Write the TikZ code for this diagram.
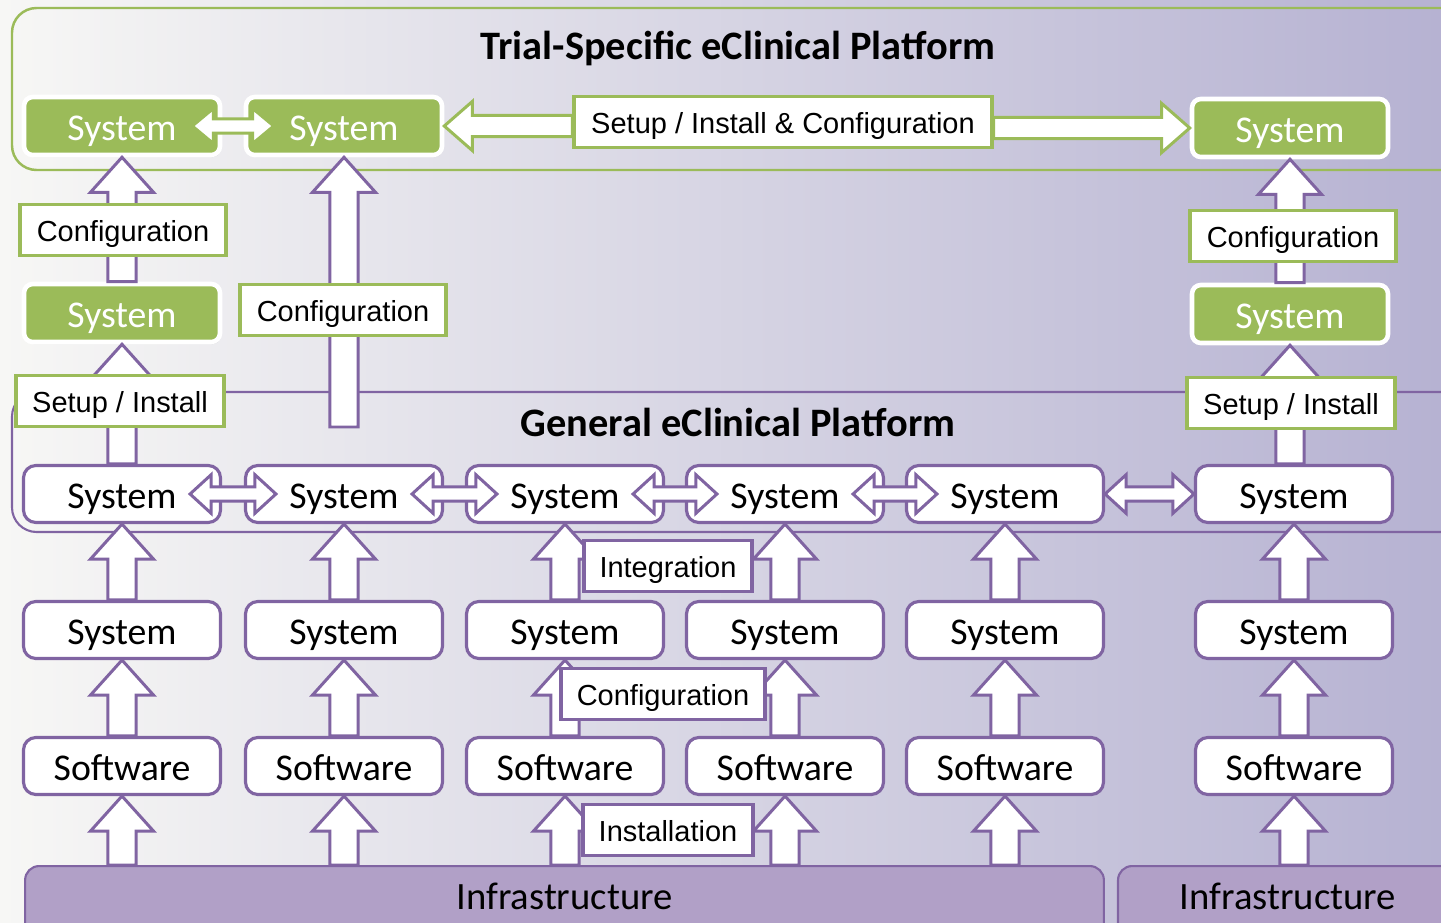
\documentclass[tikz,border=0pt]{standalone}
\usepackage{fontspec}
\usepackage{tikz}
\usetikzlibrary{calc,shadows}
\newfontfamily\calibri{Carlito}
\newfontfamily\arial{Liberation Sans}
\newcommand{\boxfont}{\calibri\fontsize{21.5}{25}\selectfont}
\newcommand{\infrafont}{\calibri\fontsize{22}{26}\selectfont}
\newcommand{\titlefont}{\calibri\bfseries\fontsize{23}{27}\selectfont}
\newcommand{\labelfont}{\arial\fontsize{16.5}{20}\selectfont}
\definecolor{grn}{RGB}{155,187,89}
\definecolor{purp}{RGB}{128,100,162}
\definecolor{infra}{RGB}{177,160,199}
\definecolor{bgleft}{RGB}{247,247,245}
\definecolor{bgmid}{RGB}{234,233,239}
\definecolor{bgright}{RGB}{182,178,210}

% block arrow pointing up: tail, tip
\newcommand{\blockup}[3][purple_arrow]{%
    \draw[#1] let \p1=#2, \p2=#3 in
    (\x2-8pt,\y1) -- (\x2-8pt,\y2-20pt) -- (\x2-18pt,\y2-20pt) -- (\x2,\y2)
    -- (\x2+18pt,\y2-20pt) -- (\x2+8pt,\y2-20pt) -- (\x2+8pt,\y1) -- cycle;}
% block arrow, horizontal: tail, tip, shaft half, head half, head length
\newcommand{\blockh}[6][green_arrow]{%
    \draw[#1] let \p1=#2, \p2=#3, \n1={ifthenelse(\x2>\x1,1,-1)} in
    (\x1,{\y2-#4}) -- ({\x2-(\n1)*#6},{\y2-#4}) -- ({\x2-(\n1)*#6},{\y2-#5}) -- (\x2,\y2)
    -- ({\x2-(\n1)*#6},{\y2+#5}) -- ({\x2-(\n1)*#6},{\y2+#4}) -- (\x1,{\y2+#4}) -- cycle;}
% double block arrow: left end, right end, shaft half, head half, head length
\newcommand{\blockdbl}[6][purple_arrow]{%
    \draw[#1] let \p1=#2, \p2=#3 in
    (\x1,\y1) -- (\x1+#6,\y1+#5) -- (\x1+#6,\y1+#4) -- (\x2-#6,\y1+#4) -- (\x2-#6,\y1+#5)
    -- (\x2,\y1) -- (\x2-#6,\y1-#5) -- (\x2-#6,\y1-#4) -- (\x1+#6,\y1-#4) -- (\x1+#6,\y1-#5) -- cycle;}

\begin{document}
\begin{tikzpicture}[x=0.02cm, y=-0.02cm,
green_box/.style={rectangle, rounded corners=5pt, fill=grn, draw=white, line width=2.6pt, text=white, minimum width=3.92cm, minimum height=1.16cm, text height=16.5pt, text depth=0pt, font=\boxfont, drop shadow={opacity=0.3, shadow xshift=0.6pt, shadow yshift=-1.2pt}},
white_box/.style={rectangle, rounded corners=7pt, fill=white, draw=purp, line width=1.8pt, minimum width=3.94cm, minimum height=1.14cm, text height=17pt, text depth=0pt, font=\boxfont},
green_label/.style={rectangle, fill=white, draw=grn, line width=1.8pt, minimum height=1.02cm, text height=14pt, text depth=1pt, font=\labelfont},
purple_label/.style={green_label, draw=purp},
infra_box/.style={rectangle, rounded corners=8pt, fill=infra, draw=purp, line width=1.2pt, anchor=north, inner ysep=0.1cm, text height=0.76cm, text depth=0.64cm, font=\infrafont},
title_text/.style={font=\titlefont},
purple_arrow/.style={draw=purp, line width=1.7pt, fill=white, line join=miter},
green_arrow/.style={draw=grn, line width=1.7pt, fill=white, line join=miter}
]
% Draw background
    \useasboundingbox (0,0) rectangle (1441,923);
    \clip (0,0) rectangle (1441,923);
    \shade[left color=bgleft, middle color=bgmid, right color=bgright] (0,0) rectangle (1441,923);

% Draw panels
    \draw[grn, line width=1.4pt, rounded corners=14pt] (12,8) rectangle (1480,170);
    \draw[purp, line width=1.2pt, rounded corners=14pt] (12,392) rectangle (1480,532);
    \node[title_text] (t1) at (738,48) {Trial-Specific eClinical Platform};
    \node[title_text] (t2) at (738,422) {General eClinical Platform};

% Draw trial-specific systems
    \node[green_box] (g1) at (122,126) {System};
    \node[green_box] (g2) at (344,126) {System};
    \node[green_box] (g3) at (1290,128) {System};
    \node[green_box] (g4) at (122,313) {System};
    \node[green_box] (g5) at (1290,314) {System};

% Draw general systems and software
    \foreach \x [count=\i] in {122,344,565,785,1005,1294} {
        \node[white_box] (a\i) at (\x,494) {System};
        \node[white_box] (b\i) at (\x,630) {System};
        \node[white_box] (c\i) at (\x,766) {Software};
    }

% Draw infrastructure
    \node[infra_box, minimum width=21.58cm] (inf1) at (564.5,865) {Infrastructure};
    \node[infra_box, minimum width=6.8cm] (inf2) at (1288,865) {Infrastructure};

% Draw up arrows
    \foreach \i in {1,...,6} {
        \blockup{(c\i.south |- inf1.north)}{(c\i.south)}
        \blockup{(b\i.south |- c\i.north)}{(b\i.south)}
        \blockup{(a\i.south |- b\i.north)}{(a\i.south)}
    }
    \coordinate (k2) at (345,427);
    \blockup{(a1.north)}{(g4.south)}
    \blockup{(g4.north)}{(g1.south)}
    \blockup{(k2)}{(g2.south)}
    \blockup{(a6.north)}{(g5.south)}
    \blockup{(g5.north)}{(g3.south)}

% Draw double arrows
    \foreach \i [evaluate=\i as \j using int(\i+1)] in {1,...,4} {
        \blockdbl{([xshift=-0.64cm]a\i.east)}{([xshift=0.64cm]a\j.west)}{4pt}{11pt}{12pt}
    }
    \blockdbl{(a5.east)}{(a6.west)}{4pt}{11pt}{12pt}
    \blockdbl[green_arrow]{([xshift=-0.6cm]g1.east)}{([xshift=0.6cm]g2.west)}{4pt}{10pt}{12pt}

% Draw labels
    \node[green_label, minimum width=8.36cm] (l1) at (783,122) {Setup / Install \& Configuration};
    \blockh{(l1.west)}{(g2.east)}{6pt}{14pt}{16pt}
    \blockh{(l1.east)}{(g3.west)}{6pt}{14pt}{16pt}
    \node[green_label, minimum width=4.12cm] (l2) at (123,230) {Configuration};
    \node[green_label, minimum width=4.12cm] (l3) at (343,310) {Configuration};
    \node[green_label, minimum width=4.16cm] (l4) at (120,401) {Setup / Install};
    \node[green_label, minimum width=4.12cm] (l5) at (1293,236) {Configuration};
    \node[green_label, minimum width=4.16cm] (l6) at (1291,403) {Setup / Install};
    \node[purple_label, minimum width=3.36cm] (l7) at (668,566) {Integration};
    \node[purple_label, minimum width=4.08cm] (l8) at (663,694) {Configuration};
    \node[purple_label, minimum width=3.4cm] (l9) at (668,830) {Installation};
\end{tikzpicture}
\end{document}
